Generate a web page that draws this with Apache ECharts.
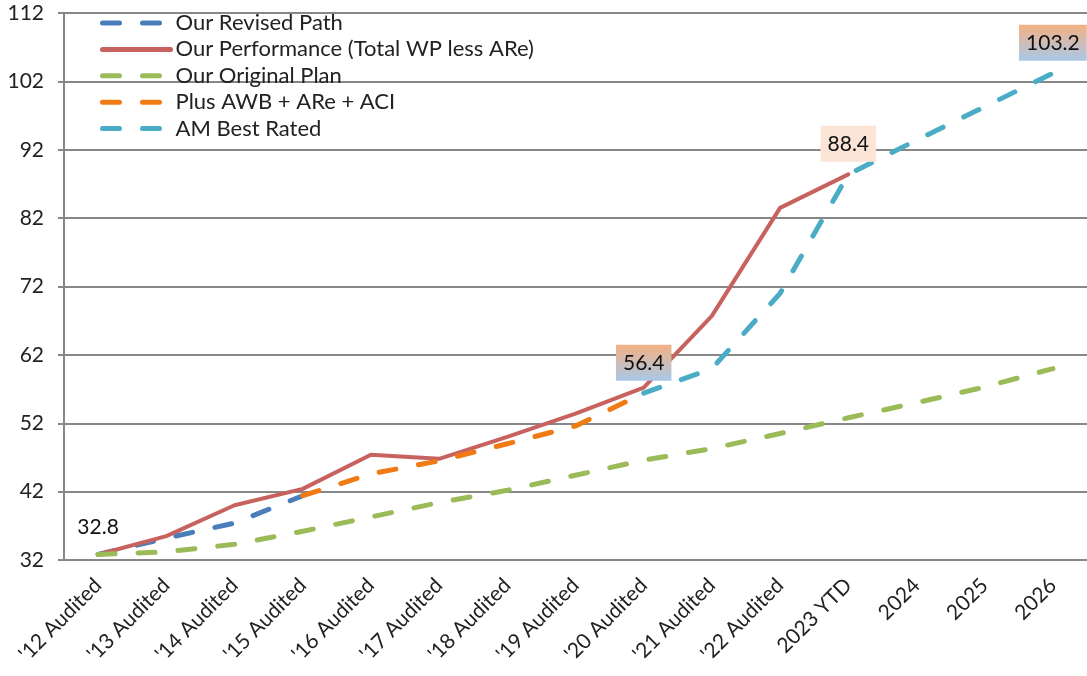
<!DOCTYPE html>
<html>
<head>
<meta charset="utf-8">
<script src="https://cdn.jsdelivr.net/npm/echarts@6/dist/echarts.min.js"></script>
<style>
  html, body { margin: 0; padding: 0; background: #fff; }
  #chart { width: 1087px; height: 676px; }
</style>
</head>
<body>
<div id="chart"></div>
<script>
// Categories along the x axis
const categories = ["'12 Audited", "'13 Audited", "'14 Audited", "'15 Audited", "'16 Audited",
  "'17 Audited", "'18 Audited", "'19 Audited", "'20 Audited", "'21 Audited", "'22 Audited",
  "2023 YTD", "2024", "2025", "2026"];

// Series values (null where a series has no point)
const revisedPath = [32.8, 35.2, 37.4, 41.4, null, null, null, null, null, null, null, null, null, null, null];
const performance = [32.8, 35.5, 40.0, 42.4, 47.4, 46.8, 50.0, 53.4, 57.2, 67.7, 83.5, 88.4, null, null, null];
const originalPlan = [32.8, 33.2, 34.3, 36.2, 38.3, 40.4, 42.2, 44.4, 46.6, 48.3, 50.5, 52.8, 55.0, 57.3, 60.0];
const plusAwb = [null, null, null, 41.4, 44.6, 46.5, 49.0, 51.6, 56.4, null, null, null, null, null, null];
const amBest = [null, null, null, null, null, null, null, null, 56.4, 60.0, 71.0, 88.4, 93.4, 98.3, 103.2];

// Y axis range
const yMin = 32, yMax = 112, yStep = 10;

const FONT = 'Lato';
const HIDDEN = 'rgba(0,0,0,0)';
const DASH = [17, 23];

const chart = echarts.init(document.getElementById('chart'));

function lineSeries(name, data, color, width, dashed) {
  return {
    name, type: 'line', data,
    symbol: 'circle', symbolSize: 1, showSymbol: true,
    itemStyle: { color: HIDDEN },
    lineStyle: { color, width, type: dashed ? DASH : 'solid', cap: 'round', join: 'round' },
    emphasis: { disabled: true }
  };
}

const gradBg = new echarts.graphic.LinearGradient(0, 0, 0, 1, [
  { offset: 0, color: '#f4b183' },
  { offset: 1, color: '#a9c8e8' }
]);
const boxLabel = (bg) => ({
  show: true, position: 'top', distance: 12,
  formatter: (p) => p.value.toFixed(1),
  fontFamily: FONT, fontSize: 21, color: '#111',
  backgroundColor: bg, padding: [8, 7, 7, 7]
});

// Value boxes on the AM Best series
const boxed = { 8: gradBg, 11: '#fce4d6', 14: gradBg };
const amBestData = amBest.map((v, i) => boxed[i] ? { value: v, label: boxLabel(boxed[i]) } : v);

// Starting value written above the first performance point
const perfData = performance.map((v, i) => i === 0
  ? { value: v, label: { show: true, position: 'top', distance: 16, formatter: (p) => p.value.toFixed(1),
      fontFamily: FONT, fontSize: 21, color: '#111' } }
  : v);

const series = [
  lineSeries('Our Revised Path', revisedPath, '#4a7ebb', 5, true),
  lineSeries('Our Performance (Total WP less ARe)', perfData, '#c8625f', 4, false),
  lineSeries('Our Original Plan', originalPlan, '#9bbb59', 5, true),
  lineSeries('Plus AWB + ARe + ACI', plusAwb, '#f07b14', 5, true),
  lineSeries('AM Best Rated', amBestData, '#4bacc6', 5, true)
];

chart.setOption({
  animation: false,
  backgroundColor: '#fff',
  textStyle: { fontFamily: FONT },
  grid: { left: 64, right: -4, top: 13, bottom: 116, containLabel: false },
  legend: {
    orient: 'vertical', left: 100, top: 12, padding: 0,
    itemWidth: 68, itemHeight: 14, itemGap: 4.4,
    itemStyle: { color: HIDDEN, borderWidth: 0 },
    lineStyle: { width: 5, cap: 'round' },
    textStyle: { fontFamily: FONT, fontSize: 22, lineHeight: 22, color: '#222' },
    data: series.map(s => s.name)
  },
  xAxis: {
    type: 'category', data: categories, boundaryGap: true,
    axisLine: { lineStyle: { color: '#878787', width: 2 } },
    axisTick: { show: false },
    axisLabel: { rotate: 45, interval: 0, margin: 22, fontFamily: FONT, fontSize: 21, color: '#222' }
  },
  yAxis: {
    type: 'value', min: yMin, max: yMax, interval: yStep,
    axisLine: { show: true, lineStyle: { color: '#878787', width: 2 } },
    axisTick: { show: true, length: 6, lineStyle: { color: '#878787', width: 2 } },
    axisLabel: { margin: 20, fontFamily: FONT, fontSize: 21, color: '#222' },
    splitLine: { lineStyle: { color: '#878787', width: 2 } }
  },
  series
});
</script>
</body>
</html>
